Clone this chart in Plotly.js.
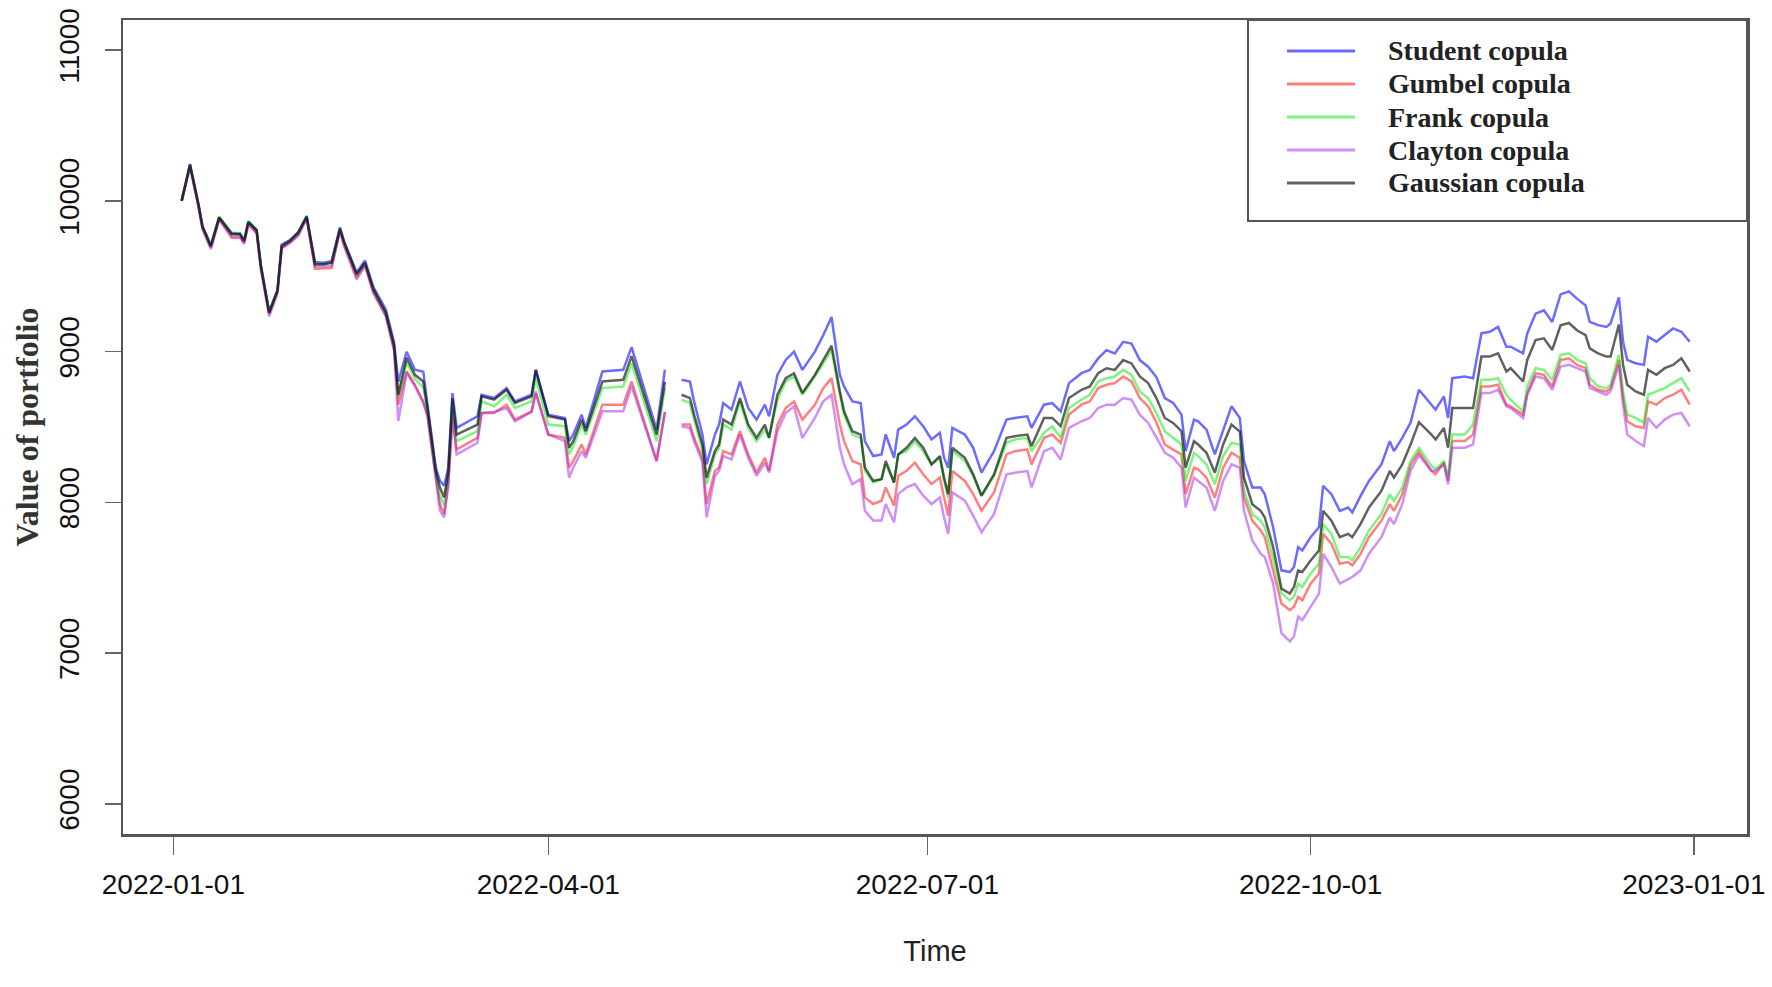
<!DOCTYPE html>
<html>
<head>
<meta charset="utf-8">
<script src="https://cdn.plot.ly/plotly-3.0.1.min.js"></script>
<style>
html,body{margin:0;padding:0;background:#fff;}
#chart{width:1772px;height:987px;}
</style>
</head>
<body>
<div id="chart"></div>
<script>
// ---------------- DATA ----------------
const dates = [
'2022-01-03','2022-01-05','2022-01-07','2022-01-08','2022-01-10','2022-01-12','2022-01-15','2022-01-17','2022-01-18','2022-01-19','2022-01-21','2022-01-22','2022-01-24','2022-01-26','2022-01-27','2022-01-29','2022-01-31',
'2022-02-02','2022-02-04','2022-02-06','2022-02-08','2022-02-10','2022-02-11','2022-02-14','2022-02-16','2022-02-18','2022-02-21','2022-02-23','2022-02-24','2022-02-26','2022-02-28',
'2022-03-02','2022-03-03','2022-03-05','2022-03-06','2022-03-07','2022-03-08','2022-03-09','2022-03-10','2022-03-15','2022-03-16','2022-03-19','2022-03-22','2022-03-24','2022-03-28','2022-03-29',
'2022-04-01','2022-04-05','2022-04-06','2022-04-07','2022-04-09','2022-04-10','2022-04-14','2022-04-19','2022-04-21','2022-04-27','2022-04-29',
'2022-05-01',
'2022-05-03','2022-05-05','2022-05-06','2022-05-08','2022-05-09','2022-05-11','2022-05-12','2022-05-13','2022-05-15','2022-05-17','2022-05-19','2022-05-21','2022-05-23','2022-05-24','2022-05-26','2022-05-28','2022-05-30',
'2022-06-01','2022-06-04','2022-06-06','2022-06-08','2022-06-10','2022-06-11','2022-06-13','2022-06-15','2022-06-16','2022-06-18','2022-06-20','2022-06-21','2022-06-23','2022-06-24','2022-06-26','2022-06-28','2022-06-30',
'2022-07-02','2022-07-04','2022-07-05','2022-07-06','2022-07-07','2022-07-10','2022-07-12','2022-07-14','2022-07-17','2022-07-20','2022-07-22','2022-07-25','2022-07-26','2022-07-29','2022-07-31',
'2022-08-02','2022-08-04','2022-08-07','2022-08-09','2022-08-11','2022-08-13','2022-08-15','2022-08-17','2022-08-19','2022-08-21','2022-08-23','2022-08-25','2022-08-27','2022-08-29','2022-08-31',
'2022-09-01','2022-09-03','2022-09-04','2022-09-06','2022-09-08','2022-09-10','2022-09-12','2022-09-14','2022-09-15','2022-09-17','2022-09-19','2022-09-20','2022-09-22','2022-09-24','2022-09-26','2022-09-27','2022-09-28','2022-09-29',
'2022-10-01','2022-10-03','2022-10-04','2022-10-06','2022-10-08','2022-10-10','2022-10-11','2022-10-13','2022-10-15','2022-10-18','2022-10-20','2022-10-21','2022-10-23','2022-10-25','2022-10-27','2022-10-30','2022-10-31',
'2022-11-02','2022-11-03','2022-11-04','2022-11-07','2022-11-09','2022-11-11','2022-11-13','2022-11-15','2022-11-17','2022-11-18','2022-11-21','2022-11-22','2022-11-24','2022-11-26','2022-11-28','2022-11-30',
'2022-12-02','2022-12-04','2022-12-06','2022-12-07','2022-12-09','2022-12-11','2022-12-12','2022-12-14','2022-12-15','2022-12-16','2022-12-18','2022-12-20','2022-12-21','2022-12-23','2022-12-25','2022-12-27','2022-12-29','2022-12-31'
];

const student = [
10000,10245,9985,9830,9705,9890,9785,9780,9735,9860,9805,9575,9265,9410,9710,9740,9795,
9900,9595,9590,9600,9825,9730,9525,9605,9430,9280,9060,8800,8999,8880,
8867,8650,8230,8143,8110,8230,8725,8494,8571,8714,8692,8758,8670,8714,8879,
8582,8560,8406,8450,8582,8494,8868,8879,9030,8483,8880,
null,
8813,8802,8670,8450,8253,8450,8516,8659,8615,8802,8626,8549,8648,8571,8846,8945,9000,
8879,9000,9109,9230,8846,8769,8670,8659,8406,8307,8318,8450,8296,8483,8516,8571,8505,
8417,8461,8296,8230,8494,8450,8362,8197,8340,8549,8560,8571,8494,8648,8659,
8604,8791,8857,8879,8955,9010,8988,9065,9054,8944,8900,8830,8692,8660,8582,
8340,8549,8538,8483,8318,8483,8637,8560,8274,8098,8098,8054,7835,7549,7538,7571,7703,7681,
7769,7835,8109,8054,7944,7966,7933,8043,8142,8252,8406,8340,8428,8530,8747,8648,8615,
8703,8560,8824,8835,8824,9121,9132,9164,9033,9033,8989,9121,9252,9274,9197,9380,
9400,9350,9307,9197,9176,9164,9186,9360,9066,8945,8923,8912,9099,9066,9110,9154,9132,9066
];

const gumbel = [
10000,10230,9970,9815,9690,9880,9755,9755,9720,9845,9790,9560,9250,9395,9685,9720,9770,
9885,9550,9550,9555,9800,9700,9480,9570,9390,9235,9010,8650,8870,8780,
8670,8580,8170,7989,7923,8130,8560,8351,8428,8593,8593,8648,8549,8604,8725,
8450,8428,8230,8274,8384,8318,8648,8648,8802,8274,8600,
null,
8516,8516,8428,8296,7989,8209,8231,8340,8318,8472,8318,8198,8296,8209,8516,8626,8670,
8549,8648,8758,8824,8516,8406,8274,8253,8033,7989,8011,8099,7978,8176,8209,8263,8186,
8121,8165,8033,7912,8208,8142,8055,7945,8066,8318,8340,8351,8252,8428,8450,
8395,8582,8648,8670,8758,8780,8791,8835,8802,8692,8637,8530,8384,8350,8318,
8054,8230,8220,8164,8032,8230,8329,8296,8032,7879,7813,7769,7549,7329,7285,7307,7373,7351,
7461,7527,7791,7725,7593,7604,7582,7659,7769,7879,7988,7944,8054,8250,8335,8209,8187,
8264,8143,8407,8407,8451,8769,8769,8780,8648,8637,8582,8725,8857,8846,8769,8945,
8956,8912,8890,8780,8747,8736,8758,8945,8692,8538,8505,8494,8670,8648,8692,8714,8747,8648
];

const frank = [
10000,10235,9975,9830,9705,9895,9790,9785,9740,9865,9810,9570,9260,9405,9700,9730,9785,
9900,9580,9580,9590,9815,9720,9505,9585,9410,9255,9030,8700,8930,8820,
8760,8610,8190,8044,7980,8170,8640,8406,8472,8670,8637,8714,8626,8670,8824,
8516,8505,8318,8370,8516,8450,8758,8769,8922,8406,8760,
null,
8681,8660,8549,8350,8121,8318,8362,8516,8483,8670,8494,8406,8483,8428,8681,8802,8835,
8714,8835,8923,9011,8714,8582,8450,8428,8209,8132,8154,8253,8132,8318,8340,8406,8340,
8252,8296,8143,8033,8340,8274,8175,8044,8175,8395,8417,8428,8340,8461,8505,
8428,8626,8681,8714,8802,8824,8835,8879,8846,8736,8692,8590,8472,8428,8384,
8142,8329,8307,8252,8120,8307,8395,8384,8076,7922,7878,7835,7626,7395,7351,7373,7461,7439,
7527,7593,7857,7791,7637,7637,7615,7703,7813,7922,8054,8010,8098,8275,8360,8242,8220,
8275,8165,8451,8451,8516,8813,8813,8824,8714,8681,8604,8769,8890,8879,8813,8978,
8989,8945,8923,8824,8769,8758,8780,8978,8736,8582,8560,8527,8714,8736,8758,8791,8824,8736
];

const clayton = [
10000,10225,9965,9815,9680,9875,9765,9765,9715,9845,9785,9550,9235,9385,9690,9725,9775,
9885,9565,9565,9570,9805,9710,9495,9575,9395,9240,9010,8540,8860,8770,
8660,8570,8160,7945,7901,8110,8580,8318,8395,8593,8600,8626,8538,8600,8736,
8450,8406,8165,8230,8340,8296,8604,8604,8769,8274,8600,
null,
8505,8494,8406,8270,7901,8176,8209,8307,8285,8450,8296,8176,8263,8198,8472,8593,8637,
8428,8560,8670,8714,8362,8253,8121,8154,7945,7879,7879,7989,7868,8055,8099,8121,8044,
7989,8033,7901,7791,8066,8011,7912,7802,7923,8186,8197,8208,8099,8340,8362,
8285,8494,8538,8560,8626,8648,8648,8692,8681,8582,8527,8430,8330,8296,8230,
7966,8164,8142,8098,7944,8142,8252,8230,7944,7747,7659,7637,7461,7132,7077,7110,7241,7219,
7307,7395,7659,7571,7461,7494,7505,7549,7659,7769,7900,7856,7988,8210,8313,8209,8209,
8253,8121,8363,8363,8385,8725,8725,8747,8637,8626,8560,8714,8835,8824,8747,8901,
8912,8890,8868,8758,8736,8714,8736,8912,8648,8451,8407,8374,8560,8495,8549,8582,8593,8505
];

const gaussian = [
10000,10240,9980,9830,9700,9890,9780,9780,9735,9860,9805,9570,9260,9405,9700,9735,9790,
9895,9580,9580,9590,9815,9725,9515,9590,9415,9260,9040,8714,8960,8846,
8802,8626,8209,8099,8033,8200,8690,8450,8516,8703,8681,8747,8659,8703,8879,
8571,8549,8362,8406,8549,8472,8802,8813,8970,8450,8800,
null,
8714,8692,8582,8384,8165,8340,8384,8549,8516,8692,8516,8428,8516,8428,8714,8824,8857,
8725,8846,8945,9040,8736,8604,8472,8450,8231,8143,8154,8275,8132,8318,8362,8428,8362,
8252,8307,8165,8055,8362,8296,8186,8044,8186,8428,8439,8450,8373,8560,8560,
8505,8692,8747,8769,8857,8890,8879,8944,8922,8835,8791,8690,8560,8527,8472,
8230,8406,8384,8329,8197,8384,8516,8470,8164,7988,7944,7900,7703,7428,7395,7439,7549,7538,
7615,7681,7944,7878,7769,7791,7769,7857,7966,8076,8208,8164,8252,8385,8532,8450,8417,
8494,8363,8626,8626,8626,8967,8967,8989,8868,8890,8802,8945,9077,9088,9011,9175,
9190,9140,9110,9022,8989,8967,8967,9180,8912,8780,8736,8714,8879,8846,8890,8912,8956,8868
];

const seriesNames = ['Student copula','Gumbel copula','Frank copula','Clayton copula','Gaussian copula'];
const xTickVals = ['2022-01-01','2022-04-01','2022-07-01','2022-10-01','2023-01-01'];
const xTickText = ['2022-01-01','2022-04-01','2022-07-01','2022-10-01','2023-01-01'];
const yTickVals = [6000,7000,8000,9000,10000,11000];
const yTickText = ['6000','7000','8000','9000','10000','11000'];

// ---------------- STYLE ----------------
const colors = ['rgba(0,0,255,0.58)','rgba(255,0,0,0.5)','rgba(0,230,0,0.5)','rgba(160,32,240,0.5)','rgba(0,0,0,0.62)'];
const allSeries = [student, gumbel, frank, clayton, gaussian];

allSeries.forEach(function(s, i){
  if (s.length !== dates.length) throw new Error('length mismatch in ' + seriesNames[i] + ': ' + s.length + ' vs ' + dates.length);
});

const traces = allSeries.map(function(s, i){
  return {
    type: 'scatter', mode: 'lines', x: dates, y: s, name: seriesNames[i],
    line: {color: colors[i], width: 2.5}, connectgaps: false, showlegend: false,
    hoverinfo: 'x+y+name'
  };
});

// plot area in pixels: left 123, right 1747, top 20, bottom 834
const L = 123, R = 1747, T = 20, B = 834;
function px(x){ return (x - L) / (R - L); }
function py(y){ return (B - y) / (B - T); }

const shapes = [{
  type: 'rect', xref: 'paper', yref: 'paper',
  x0: px(1248), x1: 1, y0: py(221), y1: 1,
  line: {color: '#555', width: 2}, fillcolor: 'rgba(255,255,255,0)'
}];
const annotations = [];
const rowY = [51, 84, 117, 150, 183];
seriesNames.forEach(function(n, i){
  shapes.push({type: 'line', xref: 'paper', yref: 'paper',
    x0: px(1287), x1: px(1355), y0: py(rowY[i]), y1: py(rowY[i]),
    line: {color: colors[i], width: 3}});
  annotations.push({xref: 'paper', yref: 'paper', x: px(1386), y: py(rowY[i]),
    xanchor: 'left', yanchor: 'middle', showarrow: false, text: n,
    font: {family: 'Liberation Serif, Times New Roman, serif', size: 28, color: '#222', weight: 'bold'}});
});

const layout = {
  width: 1772, height: 987,
  paper_bgcolor: '#fff', plot_bgcolor: '#fff',
  margin: {l: L, r: 1772 - R, t: T, b: 987 - B, pad: 0},
  showlegend: false,
  xaxis: {
    type: 'date',
    range: ['2021-12-19 22:00', '2023-01-13 18:00'],
    tickmode: 'array', tickvals: xTickVals, ticktext: xTickText,
    ticks: 'outside', ticklen: 18, tickwidth: 1.5, tickcolor: '#666',
    ticklabelstandoff: 6,
    showgrid: false, zeroline: false,
    showline: true, mirror: true, linecolor: '#555', linewidth: 2.5,
    tickfont: {family: 'Liberation Sans, Arial, sans-serif', size: 28, color: '#111'},
    title: {text: 'Time', standoff: 42,
      font: {family: 'Liberation Sans, Arial, sans-serif', size: 29, color: '#222'}}
  },
  yaxis: {
    range: [5800, 11200],
    tickmode: 'array', tickvals: yTickVals, ticktext: yTickText,
    tickangle: -90,
    ticks: 'outside', ticklen: 16, tickwidth: 1.5, tickcolor: '#666',
    ticklabelstandoff: 14,
    showgrid: false, zeroline: false,
    showline: true, mirror: true, linecolor: '#555', linewidth: 2.5,
    tickfont: {family: 'Liberation Sans, Arial, sans-serif', size: 28, color: '#111'},
    title: {text: 'Value of portfolio', standoff: 6,
      font: {family: 'Liberation Serif, Times New Roman, serif', size: 32, color: '#333', weight: 'bold'}}
  },
  shapes: shapes,
  annotations: annotations
};

Plotly.newPlot('chart', traces, layout, {displayModeBar: false, staticPlot: true});
</script>
</body>
</html>
